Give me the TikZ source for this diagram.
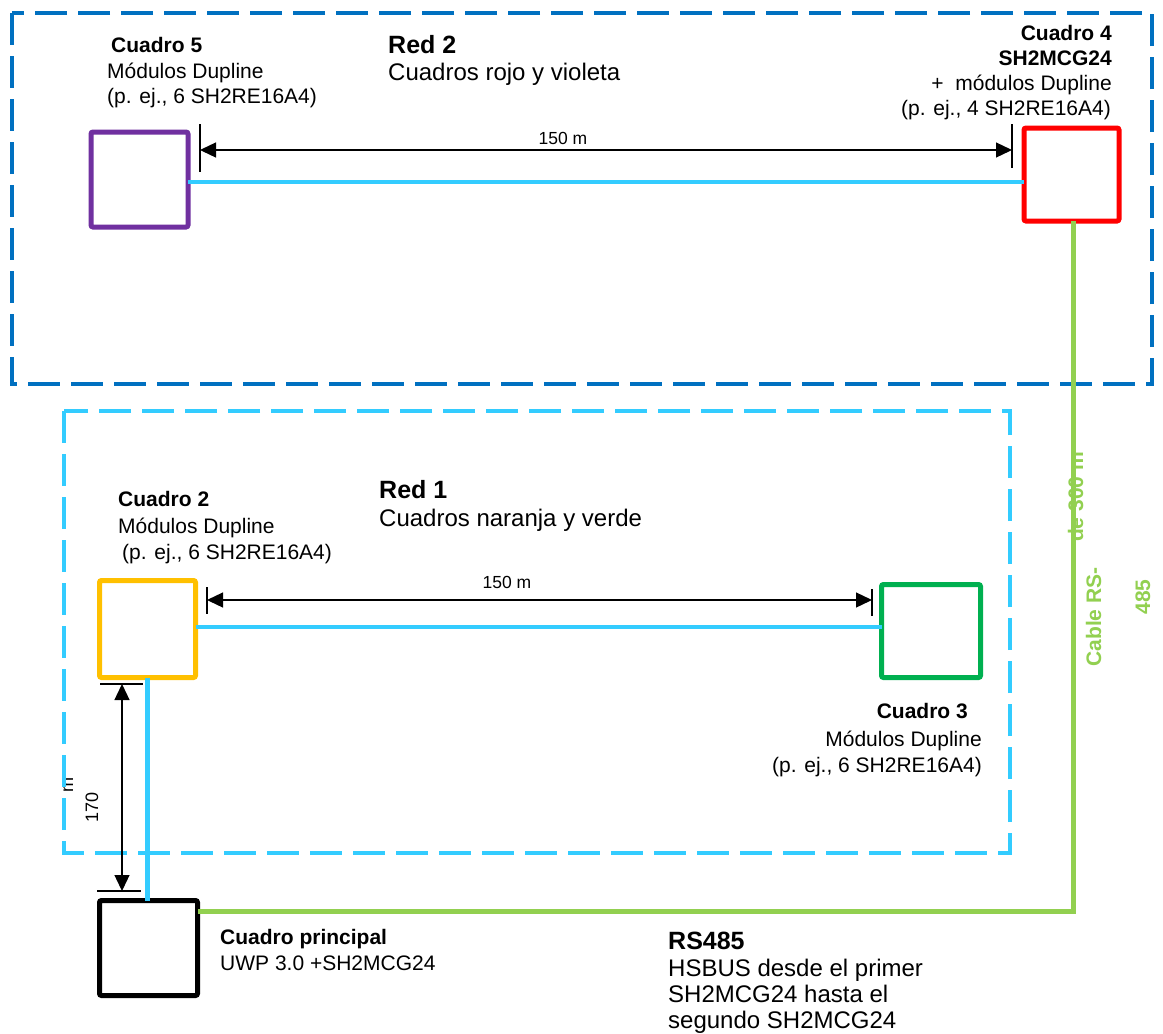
\documentclass[tikz,border=0pt]{standalone}
\usepackage{fontspec}
\setmainfont{Liberation Sans}
\usetikzlibrary{arrows.meta}
\definecolor{netblue}{HTML}{0070C0}
\definecolor{netcyan}{HTML}{33CCFF}
\definecolor{cpurple}{HTML}{7030A0}
\definecolor{corange}{HTML}{FFC000}
\definecolor{cgreen}{HTML}{00B050}
\definecolor{lgreen}{HTML}{92D050}
\begin{document}
\begin{tikzpicture}[x=1pt,y=-1pt,
  box/.style={draw=#1, line width=5pt, rounded corners=2pt, fill=white, inner sep=0pt, outer sep=0pt},
  txt/.style={font=\fontsize{21}{25}\selectfont, inner sep=0pt, anchor=base west},
  txtb/.style={font=\fontsize{21}{25}\selectfont\bfseries, inner sep=0pt, anchor=base west},
  txtr/.style={font=\fontsize{21}{25}\selectfont, inner sep=0pt, anchor=base east},
  txtbr/.style={font=\fontsize{21}{25}\selectfont\bfseries, inner sep=0pt, anchor=base east},
  redt/.style={font=\fontsize{25}{29}\selectfont\bfseries, inner sep=0pt, anchor=base west},
  redd/.style={font=\fontsize{24}{28}\selectfont, inner sep=0pt, anchor=base west},
  dimlbl/.style={font=\fontsize{17.5}{20}\selectfont, inner sep=0pt, anchor=base},
  gtxt/.style={font=\fontsize{21}{25}\selectfont\bfseries, text=lgreen, inner sep=0pt, anchor=base, rotate=90},
  netdash/.style={line width=4.5pt, dash pattern=on 32pt off 11pt},
  dimline/.style={line width=1.3pt, {Triangle[length=16pt,width=15pt]}-{Triangle[length=16pt,width=15pt]}},
  tickline/.style={line width=1.3pt},
  cyanline/.style={draw=netcyan, line width=4.5pt},
  greenline/.style={draw=lgreen, line width=5pt}
]
\useasboundingbox (0,0) rectangle (1163,1034);
\fill[white] (0,0) rectangle (1163,1034);

% --- texts ---
\node[txtb] (c5t1) at (111,52) {Cuadro 5};
\node[txt]  (c5t2) at (107,78) {Módulos Dupline};
\node[txt]  (c5t3) at (107,103) {(p. ej., 6 SH2RE16A4)};

\node[redt] (r2t) at (388,53) {Red 2};
\node[redd] (r2d) at (388,80) {Cuadros rojo y violeta};

\node[txtbr] (c4t1) at (1112,40) {Cuadro 4};
\node[txtbr] (c4t2) at (1112,65) {SH2MCG24};
\node[txtr]  (c4t3) at (1112,90) {+\ \ módulos Dupline};
\node[txtr]  (c4t4) at (1111,115) {(p. ej., 4 SH2RE16A4)};

\node[redt] (r1t) at (379,498) {Red 1};
\node[redd] (r1d) at (379,526) {Cuadros naranja y verde};

\node[txtb] (c2t1) at (118,506) {Cuadro 2};
\node[txt]  (c2t2) at (118,533) {Módulos Dupline};
\node[txt]  (c2t3) at (122,559) {(p. ej., 6 SH2RE16A4)};

\node[txtbr] (c3t1) at (968,718) {Cuadro 3};
\node[txtr]  (c3t2) at (982,746) {Módulos Dupline};
\node[txtr]  (c3t3) at (982,772) {(p. ej., 6 SH2RE16A4)};

\node[txtb] (cpt1) at (220,944) {Cuadro principal};
\node[txt]  (cpt2) at (220,970) {UWP 3.0 +SH2MCG24};

\node[redt] (rst) at (668,949) {RS485};
\node[redd] (rsd1) at (668,976) {HSBUS desde el primer};
\node[redd] (rsd2) at (668,1002) {SH2MCG24 hasta el};
\node[redd] (rsd3) at (668,1028) {segundo SH2MCG24};

\node[dimlbl] (l1) at (563,144) {150 m};
\node[dimlbl] (l2) at (507,588) {150 m};
\node[font=\fontsize{18}{20}\selectfont, inner sep=0pt, anchor=base, rotate=90] (l3) at (98,807) {170};
\node[font=\fontsize{18}{20}\selectfont, inner sep=0pt, anchor=base, rotate=90] (l3m) at (73,785) {m};

\node[gtxt] (g1) at (1083,497) {de 300 m};
\node[gtxt] (g2) at (1101,617) {Cable RS-};
\node[gtxt] (g3) at (1150,597) {485};

% --- network frames ---
\draw[netdash, draw=netblue] (12,13) rectangle (1152,384);
\draw[netdash, draw=netcyan] (64,411) rectangle (1010,853);

% --- dimension lines ---
\coordinate (d1a) at (200,150);
\coordinate (d1b) at (1012,150);
\draw[tickline] (d1a) ++(0,-26) -- ++(0,48);
\draw[tickline] (d1b) ++(0,-26) -- ++(0,44);
\draw[dimline] (d1a) -- (d1b);

\coordinate (d2a) at (207,600);
\coordinate (d2b) at (872,600);
\draw[tickline] (d2a) ++(0,-13) -- ++(0,27);
\draw[tickline] (d2b) ++(0,-11) -- ++(0,27);
\draw[dimline] (d2a) -- (d2b);

\coordinate (d3a) at (122,684);
\coordinate (d3b) at (122,891);
\draw[tickline] (d3a) ++(-22,0) -- ++(43,0);
\draw[tickline] (d3b) ++(-25,0) -- ++(44,0);
\draw[dimline] (d3a) -- (d3b);

% --- boxes ---
\node[box=cpurple, minimum width=97pt, minimum height=95pt] (c5) at (139.5,179.5) {};
\node[box=red, minimum width=95pt, minimum height=93pt] (c4) at (1071.5,174.5) {};
\node[box=corange, minimum width=96pt, minimum height=97pt] (c2) at (147.5,629) {};
\node[box=cgreen, minimum width=99pt, minimum height=93pt] (c3) at (931,631) {};
\node[box=black, minimum width=98pt, minimum height=95pt] (cp) at (148.5,948) {};

% --- connectors ---
\coordinate (y1) at (0,182);
\coordinate (y2) at (0,627);
\coordinate (y3) at (1073,911);
\draw[cyanline] (c5.east |- y1) -- (c4.west |- y1);
\draw[cyanline] (c2.east |- y2) -- (c3.west |- y2);
\draw[cyanline] (c2.south) -- (c2.south |- cp.north);
\draw[greenline] (c4.south -| y3) -- (y3) -- (cp.east |- y3);
\end{tikzpicture}
\end{document}
